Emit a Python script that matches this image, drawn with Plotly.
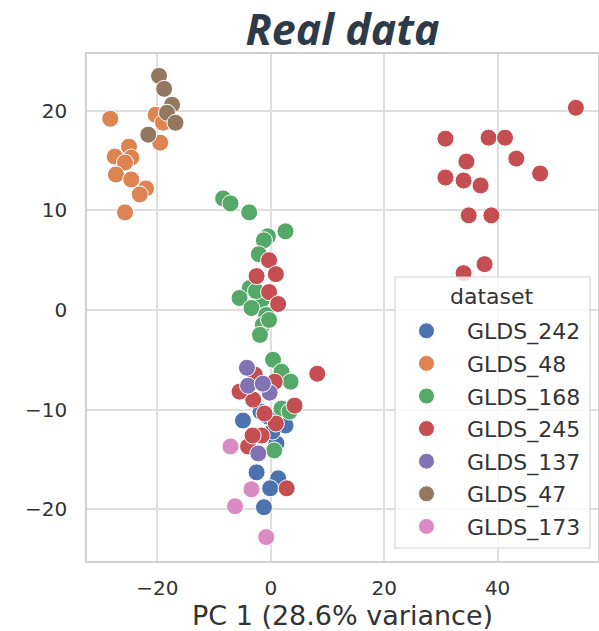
import plotly.graph_objects as go

datasets = ["GLDS_242", "GLDS_48", "GLDS_168", "GLDS_245", "GLDS_137", "GLDS_47", "GLDS_173"]
colors = ["#4c72b0", "#dd8452", "#55a868", "#c44e52", "#8172b3", "#937860", "#da8bc3"]

glds_242_x = [-4.9, -0.5, 2.6, 1.0, -1.8, -2.5, 1.3, -0.1, -1.2, 0.3]
glds_242_y = [-11.1, -10.7, -11.6, -13.4, -10.2, -16.3, -16.9, -17.9, -19.8, -12.2]

glds_48_x = [-28.3, -20.3, -19.0, -19.5, -25.0, -24.6, -27.5, -25.7, -27.3, -24.6, -22.0, -23.1, -25.7]
glds_48_y = [19.2, 19.6, 18.8, 16.8, 16.4, 15.3, 15.4, 14.8, 13.6, 13.1, 12.2, 11.6, 9.8]

glds_168_x = [-8.4, -7.1, -3.8, 2.6, -0.5, -1.2, -2.1, -3.7, -5.5, -1.6, -3.4, -0.8, -1.4, -1.9,
              0.4, 1.9, 3.5, 1.9, 3.3, 0.6, -2.6, -0.3]
glds_168_y = [11.2, 10.7, 9.8, 7.9, 7.4, 7.0, 5.6, 2.2, 1.2, 1.0, 0.2, -0.5, -1.5, -2.5,
              -5.0, -6.2, -7.2, -9.9, -10.2, -14.1, 1.9, -1.0]

glds_245_x = [53.8, 30.8, 38.4, 41.3, 43.3, 34.5, 47.5, 30.8, 34.0, 37.0, 34.9, 38.9, 37.7, 34.0,
              -0.3, -2.5, 0.9, -0.3, 1.3, 8.2, 4.2, -3.1, -5.5, 0.7, -2.8, 0.9, -1.6, -1.1,
              -4.0, 2.8, -3.2]
glds_245_y = [20.3, 17.2, 17.3, 17.3, 15.2, 14.9, 13.7, 13.3, 13.0, 12.5, 9.5, 9.5, 4.6, 3.7,
              5.0, 3.4, 3.6, 1.8, 0.6, -6.4, -9.6, -9.0, -8.2, -7.2, -6.5, -11.4, -12.6, -10.4,
              -13.7, -17.9, -12.6]

glds_137_x = [-4.2, -4.0, -0.2, -1.4, -2.2]
glds_137_y = [-5.8, -7.6, -8.3, -7.4, -14.4]

glds_47_x = [-19.7, -18.8, -17.4, -18.3, -16.8, -21.6]
glds_47_y = [23.5, 22.2, 20.6, 19.8, 18.8, 17.6]

glds_173_x = [-7.1, -3.4, -6.3, -0.8]
glds_173_y = [-13.7, -18.0, -19.7, -22.8]

xs = [glds_242_x, glds_48_x, glds_168_x, glds_245_x, glds_137_x, glds_47_x, glds_173_x]
ys = [glds_242_y, glds_48_y, glds_168_y, glds_245_y, glds_137_y, glds_47_y, glds_173_y]

W, H = 599, 631
ML, MR, MT, MB = 87, 1, 54, 70
PW, PH = W - ML - MR, H - MT - MB


def px_to_paper_x(px):
    return (px - ML) / PW


def px_to_paper_y(py):
    return (H - MB - py) / PH


fig = go.Figure()
for name, c, x, y in zip(datasets, colors, xs, ys):
    fig.add_trace(go.Scatter(
        x=x, y=y, mode="markers", name=name, legendgroup=name,
        marker=dict(color=c, size=17, line=dict(color="white", width=1)),
    ))

# legend frame (drawn as a shape so its padding can match the reference)
bx0, bx1, by0, by1 = px_to_paper_x(395), px_to_paper_x(590), px_to_paper_y(548), px_to_paper_y(277)
fig.add_shape(type="rect", xref="paper", yref="paper", x0=bx0, x1=bx1, y0=by0, y1=by1,
              fillcolor="rgba(255,255,255,0.82)", line=dict(color="#d4d4d4", width=1.2),
              layer="above")
fig.add_annotation(text="dataset", xref="paper", yref="paper",
                   x=px_to_paper_x(492), y=px_to_paper_y(296), xanchor="center", yanchor="middle",
                   showarrow=False, font=dict(family="DejaVu Sans", size=22, color="#333333"))

tick_font = dict(family="DejaVu Sans", size=20, color="#333333")
fig.update_layout(
    width=W, height=H,
    margin=dict(l=ML, r=MR, t=MT, b=MB),
    paper_bgcolor="white", plot_bgcolor="white",
    title=dict(text="<b><i>Real data</i></b>", x=0.5, xref="paper", xanchor="center",
               y=1 - 30 / H, yref="container", yanchor="middle",
               font=dict(family="Open Sans", size=43, color="#2f3a48")),
    xaxis=dict(range=[-32.4, 57.7], tickmode="array", tickvals=[-20, 0, 20, 40],
               showgrid=True, gridcolor="#dedede", gridwidth=1.5, zeroline=False,
               showline=True, linecolor="#d0d0d0", linewidth=1.5, mirror=True,
               ticks="", tickfont=tick_font, ticklabelstandoff=8, automargin=False,
               title=dict(text="PC 1 (28.6% variance)", standoff=13,
                          font=dict(family="DejaVu Sans", size=27, color="#333333"))),
    yaxis=dict(range=[-25.2, 25.7], tickmode="array", tickvals=[-20, -10, 0, 10, 20],
               showgrid=True, gridcolor="#dedede", gridwidth=1.5, zeroline=False,
               showline=True, linecolor="#d0d0d0", linewidth=1.5, mirror=True,
               ticks="", tickfont=tick_font, ticklabelstandoff=14, automargin=False),
    legend=dict(x=px_to_paper_x(386), y=px_to_paper_y(310), xanchor="left", yanchor="top",
                bgcolor="rgba(0,0,0,0)", borderwidth=0, itemwidth=71, tracegroupgap=1,
                font=dict(family="DejaVu Sans", size=22, color="#333333")),
)

fig.write_html("out.html", post_script="document.body.style.margin='0';",
               config={"displayModeBar": False})
